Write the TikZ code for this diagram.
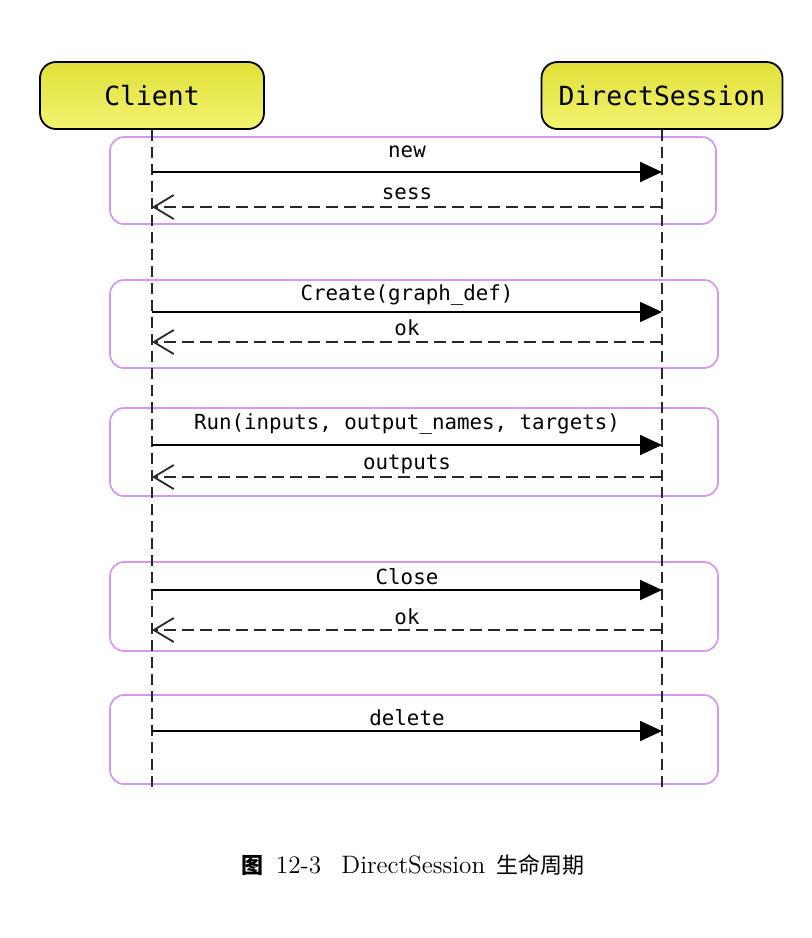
\documentclass[tikz,border=0pt]{standalone}
\usepackage{fontspec}
\setmonofont{DejaVu Sans Mono}
\newfontfamily\cjk{Noto Sans CJK SC}
\usepackage{tikz}
\usetikzlibrary{positioning,%
  arrows.meta,%
  calc%
}

\definecolor{headtop}{RGB}{224,224,58}
\definecolor{headbot}{RGB}{243,243,112}
\definecolor{grouplila}{RGB}{214,152,236}
\definecolor{lifegray}{RGB}{40,40,40}

\begin{document}
\begin{tikzpicture}
    [
        x=0.5pt, y=-0.5pt,
        actor/.style={draw, line width=0.9pt, rounded corners=8pt,
            top color=headtop, bottom color=headbot,
            minimum height=33.5pt, font=\ttfamily\fontsize{13.2}{15}\selectfont},
        lifeline/.style={lifegray, line width=0.9pt, dash pattern=on 5.5pt off 3pt},
        group/.style={grouplila, line width=0.85pt, rounded corners=7pt},
        call/.style={line width=0.9pt, -{Triangle[length=11pt,width=10pt]}},
        reply/.style={lifegray, line width=0.9pt, dash pattern=on 6pt off 3pt,
            -{Straight Barb[length=10pt,width=12pt]}},
        msg/.style={font=\ttfamily\fontsize{10.4}{12}\selectfont, inner sep=0pt, text=black}
    ]

    % Rahmen
    \useasboundingbox (0,0) rectangle (812,938);

    % Teilnehmer
    \node[actor, minimum width=112pt] (client) at (152,95.5) {Client};
    \node[actor, minimum width=120.5pt] (session) at (662,95.5) {DirectSession};

    \coordinate (client end) at (client.south |- 0,792);
    \coordinate (session end) at (session.south |- 0,792);

    % Gruppen
    \draw[group] (110,137) rectangle (716,224);
    \draw[group] (110,280) rectangle (718,368);
    \draw[group] (110,408) rectangle (718,496);
    \draw[group] (110,562) rectangle (718,651);
    \draw[group] (110,695) rectangle (718,784);

    \draw[lifeline] (client) -- (client end);
    \draw[lifeline] (session) -- (session end);

    % Nachrichten
    \foreach \n/\y in {1/172, 2/207, 3/312, 4/342, 5/445, 6/477, 7/590, 8/630, 9/731} {
        \coordinate (c\n) at (client.south |- 0,\y);
        \coordinate (s\n) at (session.south |- 0,\y);
    }

    \draw[call] (c1) -- (s1) node[msg, midway, yshift=10pt] {new};
    \draw[reply] (s2) -- (c2) node[msg, midway, yshift=6.5pt] {sess};

    \draw[call] (c3) -- (s3) node[msg, midway, yshift=8.5pt] {Create(graph\_def)};
    \draw[reply] (s4) -- (c4) node[msg, midway, yshift=7pt] {ok};

    \draw[call] (c5) -- (s5) node[msg, midway, yshift=10.5pt] {Run(inputs, output\_names, targets)};
    \draw[reply] (s6) -- (c6) node[msg, midway, yshift=6.5pt] {outputs};

    \draw[call] (c7) -- (s7) node[msg, midway, yshift=6.5pt] {Close};
    \draw[reply] (s8) -- (c8) node[msg, midway, yshift=6.5pt] {ok};

    \draw[call] (c9) -- (s9) node[msg, midway, yshift=6.5pt] {delete};

    % Bildunterschrift
    \node[font=\fontsize{12.6}{15}\selectfont] (caption) at (413,865)
        {{\cjk\fontsize{11}{15}\selectfont\bfseries 图}\hspace{0.5em}12-3\hspace{0.8em}DirectSession\hspace{0.45em}{\cjk\fontsize{11}{15}\selectfont 生命周期}};
\end{tikzpicture}
\end{document}
